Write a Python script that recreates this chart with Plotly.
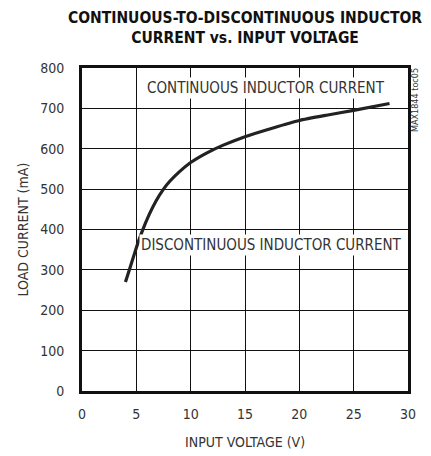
import plotly.graph_objects as go

x_volts = [4.0, 4.5, 5.0, 5.5, 6.2, 6.8, 7.5, 8.1, 9.0, 10.0, 11.5, 13.0, 15.0, 17.5, 20.0, 22.5, 25.0, 28.3]
y_ma = [270, 312, 355, 393, 438, 470, 500, 520, 544, 566, 590, 609, 630, 651, 670, 683, 695, 712]

x_ticks = [0, 5, 10, 15, 20, 25, 30]
y_ticks = [0, 100, 200, 300, 400, 500, 600, 700, 800]

FONT = "DejaVu Sans Condensed, Liberation Sans Narrow, Arial Narrow, sans-serif"
INK = "#333333"

fig = go.Figure()
fig.add_trace(go.Scatter(x=x_volts, y=y_ma, mode="lines",
                         line=dict(color="#222222", width=3.2, shape="spline", smoothing=0.5),
                         showlegend=False, hoverinfo="skip"))

fig.update_layout(
    width=423, height=448,
    margin=dict(l=74, r=23, t=60, b=65, autoexpand=False),
    paper_bgcolor="white", plot_bgcolor="white",
    font=dict(family=FONT, size=14, color=INK),
    xaxis=dict(range=[0, 30], tickvals=x_ticks, ticktext=[str(v) for v in x_ticks],
               showgrid=True, gridcolor="#111111", gridwidth=1,
               showline=True, linecolor="#111111", linewidth=3, mirror=True,
               ticks="", zeroline=False, automargin=False, ticklabelstandoff=8,
               tickfont=dict(size=14, color=INK)),
    yaxis=dict(range=[0, 800], tickvals=y_ticks, ticktext=[str(v) for v in y_ticks],
               showgrid=True, gridcolor="#111111", gridwidth=1,
               showline=True, linecolor="#111111", linewidth=3, mirror=True,
               ticks="", zeroline=False, ticklabelstandoff=12, automargin=False,
               tickfont=dict(size=14, color=INK)),
)

# chart title
fig.add_annotation(xref="paper", yref="paper", x=0.5, y=1.0, yshift=40, xanchor="center", yanchor="middle",
                   text="<b>CONTINUOUS-TO-DISCONTINUOUS INDUCTOR<br>CURRENT vs. INPUT VOLTAGE</b>",
                   showarrow=False, font=dict(family=FONT, size=15.5, color="#111111"))
# axis titles
fig.add_annotation(xref="paper", yref="paper", x=0.5, y=0.0, yshift=-51, xanchor="center", yanchor="middle",
                   text="INPUT VOLTAGE (V)", showarrow=False, font=dict(size=14, color=INK))
fig.add_annotation(xref="paper", yref="paper", x=0.0, y=0.5, xshift=-60, xanchor="center", yanchor="middle",
                   text="LOAD CURRENT (mA)", textangle=-90, showarrow=False, font=dict(size=14, color=INK))
# region labels
fig.add_annotation(x=16.9, y=750, text="CONTINUOUS INDUCTOR CURRENT", showarrow=False,
                   font=dict(size=15, color=INK), bgcolor="white")
fig.add_annotation(x=17.4, y=361, text="DISCONTINUOUS INDUCTOR CURRENT", showarrow=False,
                   font=dict(size=15, color=INK), bgcolor="white")
fig.add_annotation(xref="paper", yref="paper", x=1.0, xshift=7, y=1.0, yshift=2, xanchor="center", yanchor="top",
                   text="MAX1844 toc05", textangle=-90, showarrow=False,
                   font=dict(size=9, color=INK))

fig.write_html("out.html")
